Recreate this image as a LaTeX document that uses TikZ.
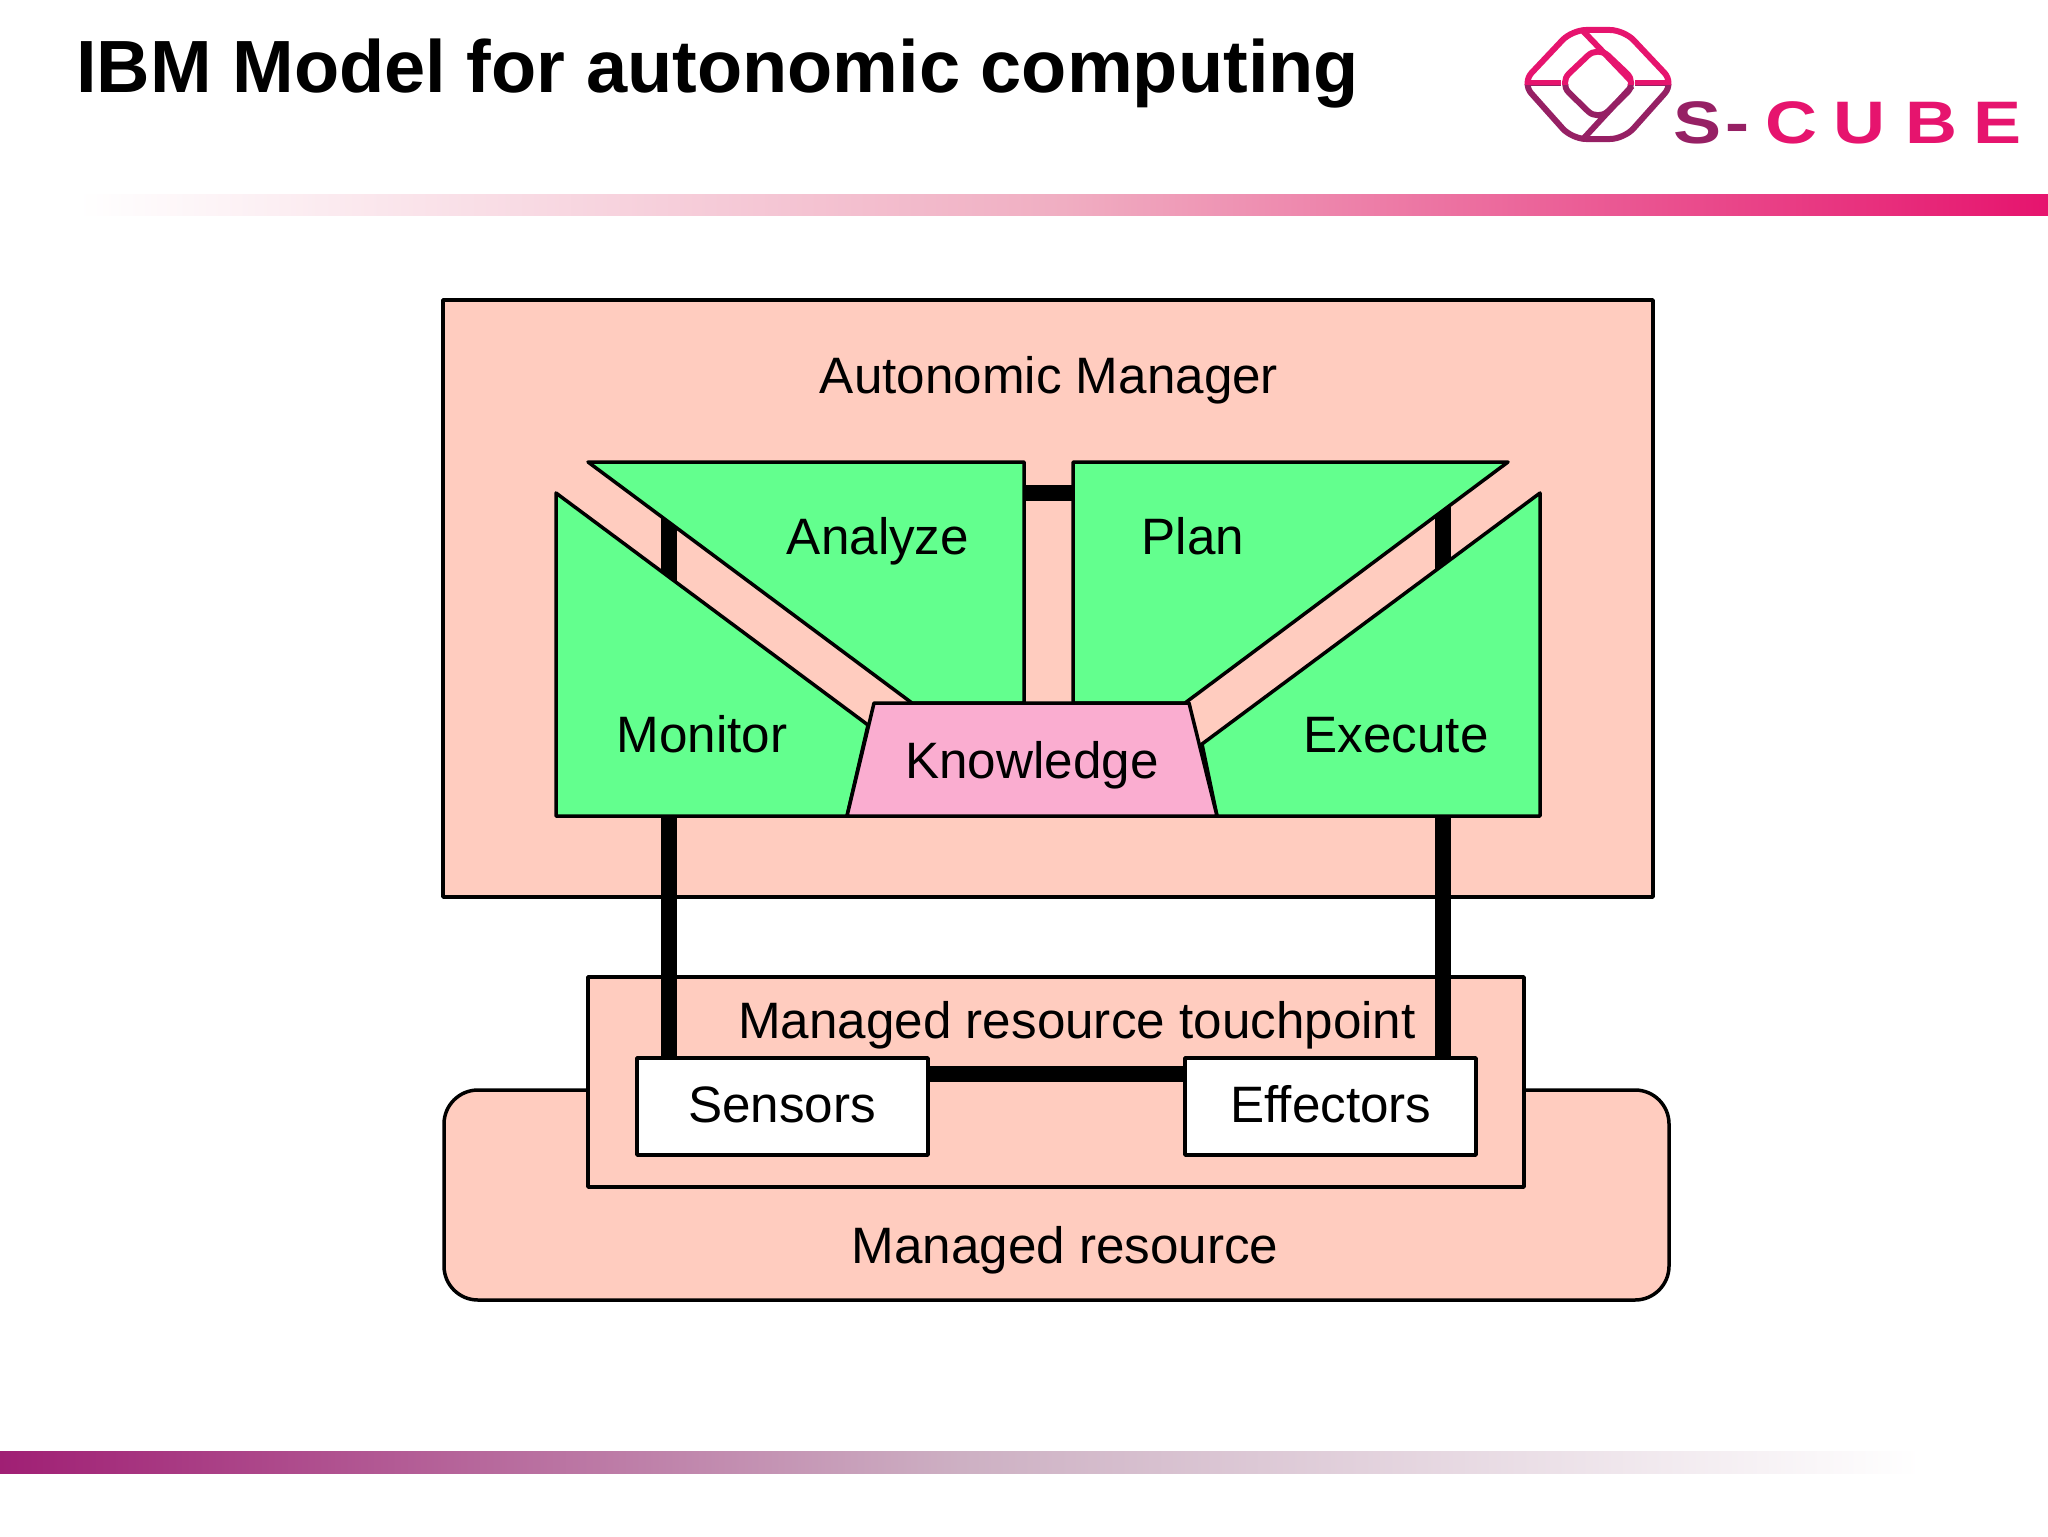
\documentclass[tikz,border=0pt]{standalone}
\usepackage{fontspec}
\setmainfont{Liberation Sans}
\newfontfamily\cubefont[FakeStretch=1.2]{Liberation Sans Bold}
\usetikzlibrary{shapes, positioning}

\definecolor{salmonfill}{HTML}{FFCCBF}
\definecolor{greenfill}{HTML}{63FF8E}
\definecolor{pinkfill}{HTML}{FAADD0}
\definecolor{cubepink}{HTML}{E6146E}
\definecolor{cubepurple}{HTML}{962064}
\definecolor{toprulemid}{HTML}{F0AEC2}
\definecolor{bottomruleleft}{HTML}{A01F74}
\definecolor{bottomrulemid}{HTML}{CDB0C3}

\newcommand{\cubelogo}{
        \draw[logoline, rounded corners=7] (1522,83) -- (1572,30) -- (1624,30) -- (1674,83) -- (1624,139) -- (1572,139) -- cycle;
        \draw[logoline, rounded corners=7] (1559,83) -- (1598,46) -- (1637,83) -- (1598,121) -- cycle;
        \draw[logoline] (1525,83) -- (1561,83);
        \draw[logoline] (1635,83) -- (1671,83);
        \draw[logoline] (1583,31) -- (1631,81);
        \draw[logoline] (1632,86) -- (1584,138);
}

\begin{document}
\begin{tikzpicture}[x=0.5pt, y=-0.5pt, line join=round,
        box/.style={rectangle, draw, fill=salmonfill, line width=1.75pt, inner sep=0pt},
        stage/.style={draw, fill=greenfill, line width=1.75pt},
        label/.style={anchor=base, font=\fontsize{25.6}{30}\selectfont},
        bar/.style={line width=8.25pt},
        logoline/.style={line width=3pt}]
        \useasboundingbox (0,0) rectangle (2048,1536);

        % Title and slide bars
        \node[anchor=base west, inner sep=0pt, font=\fontsize{37}{44}\bfseries\selectfont] (title) at (76,92) {IBM Model for autonomic computing};
        \fill[left color=white, right color=cubepink, middle color=toprulemid] (78,194) rectangle (2048,215);
        \fill[left color=bottomruleleft, right color=white, middle color=bottomrulemid] (0,1451) rectangle (1920,1473);

        % Logo
        \begin{scope}[color=cubepurple]
                \clip (1500,85) rectangle (1700,160);
                \cubelogo
        \end{scope}
        \begin{scope}[color=cubepink]
                \clip (1500,10) rectangle (1700,85);
                \cubelogo
        \end{scope}
        \node[anchor=base west, inner sep=0pt, font=\fontsize{30}{36}\cubefont\selectfont, text=cubepink] (cube) at (1673,143)
                {\textcolor{cubepurple}{S\hspace{2pt}-}\hspace{8pt}C\hspace{8pt}U\hspace{10pt}B\hspace{8pt}E};

        % Boxes
        \node[box] (manager) at (1048,598.5) [minimum width=605pt, minimum height=298.5pt] {};
        \node[box, rounded corners=17pt] (resource) at (1056.5,1195) [minimum width=612.5pt, minimum height=105pt] {};
        \node[box] (touchpoint) at (1056,1082) [minimum width=468pt, minimum height=105pt] {};

        % Stages
        \coordinate (monitorT) at (556,493);
        \coordinate (monitorB) at (556,816);
        \coordinate (monitorR) at (868,725);
        \coordinate (analyzeT) at (588,462);
        \coordinate (analyzeR) at (1024,462);
        \coordinate (analyzeB) at (1024,703);
        \coordinate (analyzeL) at (912,703);
        \coordinate (planL) at (1073,462);
        \coordinate (planT) at (1508,462);
        \coordinate (planR) at (1185,703);
        \coordinate (planB) at (1073,703);
        \coordinate (executeT) at (1540,493);
        \coordinate (executeB) at (1540,816);
        \coordinate (executeL) at (1202,744);
        \coordinate (knowA) at (874,703);
        \coordinate (knowB) at (1189,703);
        \coordinate (knowC) at (1217,816);
        \coordinate (knowD) at (847,816);

        % Connections
        \coordinate (monitorUp) at (669,585);
        \coordinate (analyzeDown) at (669,512);
        \coordinate (monitorDown) at (669,816);
        \coordinate (executeUp) at (1443,575);
        \coordinate (planDown) at (1443,505);
        \coordinate (executeDown) at (1443,816);
        \draw[bar] (monitorUp) -- (analyzeDown);
        \draw[bar] (executeUp) -- (planDown);
        \draw[bar] (analyzeR |- 0,493) -- (planL |- 0,493);

        \draw[stage] (monitorT) -- (monitorR) -- (knowD) -- (monitorB) -- cycle;
        \draw[stage] (analyzeT) -- (analyzeR) -- (analyzeB) -- (analyzeL) -- cycle;
        \draw[stage] (planL) -- (planT) -- (planR) -- (planB) -- cycle;
        \draw[stage] (executeT) -- (executeB) -- (knowC) -- (executeL) -- cycle;
        \draw[draw, fill=pinkfill, line width=1.75pt] (knowA) -- (knowB) -- (knowC) -- (knowD) -- cycle;

        % Sensors and Effectors
        \node[box, fill=white, minimum width=145.5pt, minimum height=48.5pt] (sensors) at (782.5,1106.5) {};
        \node[box, fill=white, minimum width=145.5pt, minimum height=48.5pt] (effectors) at (1330.5,1106.5) {};

        \draw[bar] (monitorDown) -- (sensors.north -| monitorDown);
        \draw[bar] (executeDown) -- (effectors.north -| executeDown);
        \draw[bar] (sensors.east |- 0,1074) -- (effectors.west |- 0,1074);

        % Labels
        \node[label] (managerT) at (1049,393) {Autonomic Manager};
        \node[label] (analyzeN) at (878,554) {Analyze};
        \node[label] (planN) at (1193,554) {Plan};
        \node[label] (monitorN) at (702,752) {Monitor};
        \node[label] (executeN) at (1396,752) {Execute};
        \node[label] (knowN) at (1032,778) {Knowledge};
        \node[label] (touchpointT) at (1077,1038) {Managed resource touchpoint};
        \node[label] (sensorsN) at (782,1122) {Sensors};
        \node[label] (effectorsN) at (1331,1122) {Effectors};
        \node[label] (resourceT) at (1065,1263) {Managed resource};

\end{tikzpicture}
\end{document}
